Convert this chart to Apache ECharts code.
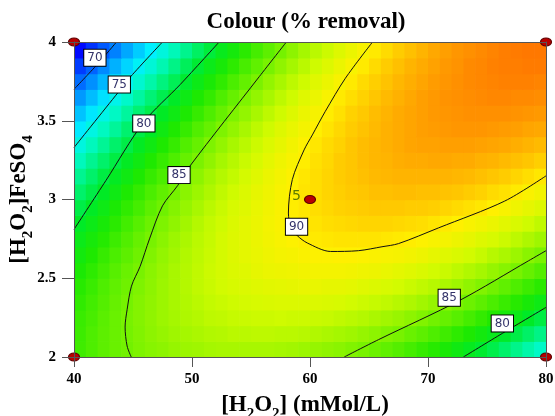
<!DOCTYPE html>
<html>
<head>
<meta charset="utf-8">
<script src="https://cdn.jsdelivr.net/npm/echarts/dist/echarts.min.js"></script>
<style>
html, body { margin: 0; padding: 0; background: #fff; }
#chart { width: 555px; height: 416px; }
</style>
</head>
<body>
<div id="chart"></div>
<script>
// Cell centres of the response grid: H2O2 dose (mMol/L) and H2O2/FeSO4 ratio
const xCenters = [40.5, 41.5, 42.5, 43.5, 44.5, 45.5, 46.5, 47.5, 48.5, 49.5,
                  50.5, 51.5, 52.5, 53.5, 54.5, 55.5, 56.5, 57.5, 58.5, 59.5,
                  60.5, 61.5, 62.5, 63.5, 64.5, 65.5, 66.5, 67.5, 68.5, 69.5,
                  70.5, 71.5, 72.5, 73.5, 74.5, 75.5, 76.5, 77.5, 78.5, 79.5];
const yCenters = [2.05, 2.15, 2.25, 2.35, 2.45, 2.55, 2.65, 2.75, 2.85, 2.95,
                  3.05, 3.15, 3.25, 3.35, 3.45, 3.55, 3.65, 3.75, 3.85, 3.95];

// Colour removal (%) per cell, one row per ratio value (bottom row first)
const removal = [
  [83.1, 83.6, 84.1, 84.5, 84.8, 85.2, 85.5, 85.7, 86.0, 86.2, 86.3, 86.5, 86.6, 86.6, 86.6, 86.6, 86.6, 86.5, 86.4, 86.2, 86.0, 85.8, 85.6, 85.3, 85.0, 84.6, 84.2, 83.8, 83.3, 82.8, 82.3, 81.7, 81.1, 80.4, 79.8, 79.1, 78.3, 77.5, 76.7, 75.9],
  [83.0, 83.6, 84.1, 84.5, 84.9, 85.3, 85.7, 86.0, 86.3, 86.5, 86.7, 86.9, 87.0, 87.2, 87.2, 87.3, 87.3, 87.2, 87.2, 87.1, 86.9, 86.7, 86.5, 86.3, 86.0, 85.7, 85.3, 85.0, 84.5, 84.1, 83.6, 83.1, 82.5, 81.9, 81.3, 80.6, 79.9, 79.2, 78.4, 77.6],
  [82.9, 83.4, 84.0, 84.5, 85.0, 85.4, 85.8, 86.2, 86.5, 86.8, 87.0, 87.3, 87.4, 87.6, 87.7, 87.8, 87.8, 87.9, 87.8, 87.8, 87.7, 87.6, 87.4, 87.2, 87.0, 86.7, 86.4, 86.1, 85.7, 85.3, 84.8, 84.4, 83.9, 83.3, 82.7, 82.1, 81.5, 80.8, 80.0, 79.3],
  [82.6, 83.2, 83.8, 84.4, 84.9, 85.4, 85.8, 86.2, 86.6, 86.9, 87.2, 87.5, 87.7, 87.9, 88.1, 88.2, 88.3, 88.4, 88.4, 88.4, 88.4, 88.3, 88.2, 88.0, 87.8, 87.6, 87.4, 87.1, 86.8, 86.4, 86.0, 85.6, 85.1, 84.6, 84.1, 83.5, 82.9, 82.3, 81.6, 80.9],
  [82.3, 82.9, 83.6, 84.2, 84.7, 85.2, 85.7, 86.2, 86.6, 87.0, 87.4, 87.7, 88.0, 88.2, 88.4, 88.6, 88.7, 88.8, 88.9, 89.0, 89.0, 88.9, 88.9, 88.8, 88.6, 88.4, 88.2, 88.0, 87.7, 87.4, 87.1, 86.7, 86.3, 85.8, 85.3, 84.8, 84.2, 83.6, 83.0, 82.4],
  [81.8, 82.5, 83.2, 83.9, 84.5, 85.0, 85.6, 86.1, 86.6, 87.0, 87.4, 87.8, 88.1, 88.4, 88.6, 88.9, 89.1, 89.2, 89.3, 89.4, 89.5, 89.5, 89.5, 89.4, 89.3, 89.2, 89.0, 88.8, 88.6, 88.3, 88.0, 87.7, 87.3, 86.9, 86.5, 86.0, 85.5, 85.0, 84.4, 83.8],
  [81.3, 82.0, 82.8, 83.5, 84.1, 84.7, 85.3, 85.9, 86.4, 86.9, 87.3, 87.7, 88.1, 88.5, 88.8, 89.0, 89.3, 89.5, 89.6, 89.8, 89.9, 89.9, 90.0, 90.0, 89.9, 89.8, 89.7, 89.6, 89.4, 89.2, 88.9, 88.6, 88.3, 88.0, 87.6, 87.1, 86.7, 86.2, 85.6, 85.1],
  [80.7, 81.5, 82.2, 83.0, 83.7, 84.4, 85.0, 85.6, 86.2, 86.7, 87.2, 87.6, 88.1, 88.5, 88.8, 89.1, 89.4, 89.7, 89.9, 90.1, 90.2, 90.3, 90.4, 90.4, 90.4, 90.4, 90.3, 90.2, 90.1, 89.9, 89.7, 89.5, 89.2, 88.9, 88.5, 88.2, 87.8, 87.3, 86.8, 86.3],
  [80.0, 80.8, 81.6, 82.4, 83.2, 83.9, 84.6, 85.2, 85.8, 86.4, 87.0, 87.5, 87.9, 88.4, 88.8, 89.1, 89.5, 89.8, 90.0, 90.3, 90.4, 90.6, 90.7, 90.8, 90.9, 90.9, 90.9, 90.8, 90.7, 90.6, 90.4, 90.2, 90.0, 89.7, 89.4, 89.1, 88.7, 88.3, 87.9, 87.4],
  [79.2, 80.1, 80.9, 81.8, 82.6, 83.3, 84.1, 84.7, 85.4, 86.0, 86.6, 87.2, 87.7, 88.2, 88.6, 89.0, 89.4, 89.8, 90.1, 90.3, 90.6, 90.8, 91.0, 91.1, 91.2, 91.3, 91.3, 91.3, 91.2, 91.2, 91.1, 90.9, 90.7, 90.5, 90.3, 90.0, 89.7, 89.3, 88.9, 88.5],
  [78.3, 79.2, 80.1, 81.0, 81.9, 82.7, 83.5, 84.2, 84.9, 85.6, 86.2, 86.8, 87.4, 87.9, 88.4, 88.9, 89.3, 89.7, 90.0, 90.4, 90.6, 90.9, 91.1, 91.3, 91.4, 91.6, 91.6, 91.7, 91.7, 91.6, 91.6, 91.5, 91.4, 91.2, 91.0, 90.7, 90.5, 90.2, 89.8, 89.4],
  [77.3, 78.3, 79.3, 80.2, 81.1, 81.9, 82.8, 83.5, 84.3, 85.0, 85.7, 86.4, 87.0, 87.5, 88.1, 88.6, 89.1, 89.5, 89.9, 90.3, 90.6, 90.9, 91.2, 91.4, 91.6, 91.8, 91.9, 92.0, 92.0, 92.0, 92.0, 92.0, 91.9, 91.8, 91.6, 91.4, 91.2, 90.9, 90.6, 90.3],
  [76.2, 77.3, 78.3, 79.3, 80.2, 81.1, 82.0, 82.8, 83.6, 84.4, 85.1, 85.8, 86.5, 87.1, 87.7, 88.2, 88.8, 89.3, 89.7, 90.1, 90.5, 90.8, 91.2, 91.4, 91.7, 91.9, 92.0, 92.2, 92.3, 92.3, 92.4, 92.4, 92.3, 92.3, 92.1, 92.0, 91.8, 91.6, 91.4, 91.1],
  [75.1, 76.2, 77.2, 78.3, 79.2, 80.2, 81.1, 82.0, 82.8, 83.7, 84.4, 85.2, 85.9, 86.6, 87.2, 87.8, 88.4, 88.9, 89.4, 89.9, 90.3, 90.7, 91.0, 91.4, 91.7, 91.9, 92.1, 92.3, 92.5, 92.6, 92.6, 92.7, 92.7, 92.7, 92.6, 92.5, 92.4, 92.2, 92.0, 91.8],
  [73.8, 75.0, 76.1, 77.1, 78.2, 79.2, 80.1, 81.1, 82.0, 82.8, 83.7, 84.4, 85.2, 85.9, 86.6, 87.3, 87.9, 88.5, 89.0, 89.5, 90.0, 90.4, 90.8, 91.2, 91.5, 91.8, 92.1, 92.3, 92.5, 92.7, 92.8, 92.9, 93.0, 93.0, 93.0, 92.9, 92.8, 92.7, 92.5, 92.4],
  [72.5, 73.7, 74.8, 76.0, 77.0, 78.1, 79.1, 80.1, 81.0, 81.9, 82.8, 83.6, 84.4, 85.2, 85.9, 86.6, 87.3, 87.9, 88.5, 89.1, 89.6, 90.1, 90.5, 91.0, 91.3, 91.7, 92.0, 92.3, 92.5, 92.7, 92.9, 93.0, 93.1, 93.2, 93.2, 93.2, 93.2, 93.1, 93.0, 92.9],
  [71.1, 72.3, 73.5, 74.7, 75.8, 76.9, 78.0, 79.0, 80.0, 80.9, 81.9, 82.7, 83.6, 84.4, 85.2, 85.9, 86.6, 87.3, 87.9, 88.6, 89.1, 89.7, 90.2, 90.6, 91.0, 91.4, 91.8, 92.1, 92.4, 92.7, 92.9, 93.1, 93.2, 93.3, 93.4, 93.5, 93.5, 93.4, 93.4, 93.3],
  [69.6, 70.8, 72.1, 73.3, 74.5, 75.6, 76.7, 77.8, 78.8, 79.8, 80.8, 81.7, 82.6, 83.5, 84.3, 85.1, 85.9, 86.6, 87.3, 87.9, 88.6, 89.1, 89.7, 90.2, 90.7, 91.1, 91.5, 91.9, 92.2, 92.5, 92.8, 93.0, 93.2, 93.4, 93.5, 93.6, 93.7, 93.7, 93.7, 93.6],
  [68.0, 69.3, 70.6, 71.9, 73.1, 74.3, 75.4, 76.5, 77.6, 78.7, 79.7, 80.7, 81.6, 82.5, 83.4, 84.2, 85.0, 85.8, 86.5, 87.2, 87.9, 88.5, 89.1, 89.7, 90.2, 90.7, 91.2, 91.6, 92.0, 92.3, 92.6, 92.9, 93.1, 93.4, 93.5, 93.7, 93.8, 93.8, 93.9, 93.9],
  [66.3, 67.7, 69.0, 70.3, 71.6, 72.8, 74.0, 75.2, 76.3, 77.4, 78.5, 79.5, 80.5, 81.4, 82.4, 83.3, 84.1, 84.9, 85.7, 86.5, 87.2, 87.8, 88.5, 89.1, 89.7, 90.2, 90.7, 91.2, 91.6, 92.0, 92.4, 92.7, 93.0, 93.2, 93.4, 93.6, 93.8, 93.9, 94.0, 94.0]
];

// Iso-lines of colour removal, as [H2O2, ratio] points
const contour70 = [[43.6, 4.0], [42.0, 3.86], [40.0, 3.70]];
const contour75 = [[47.5, 4.0], [44.8, 3.78], [43.74, 3.68], [40.0, 3.33]];
const contour80a = [[52.3, 4.0], [49.0, 3.73], [45.9, 3.49], [42.7, 3.12], [40.0, 2.81]];
const contour85a = [[58.0, 4.0], [55.7, 3.78], [49.8, 3.21], [48.8, 3.09], [47.5, 2.96], [46.4, 2.75],
                    [45.6, 2.575], [44.87, 2.45], [44.5, 2.30], [44.33, 2.19], [44.5, 2.07], [44.85, 2.0]];
const contour90 = [[65.3, 4.0], [63.0, 3.77], [61.3, 3.56], [60.2, 3.41], [59.5, 3.315], [58.5, 3.126],
                   [58.17, 2.914], [58.4, 2.82], [58.93, 2.77], [59.77, 2.724], [61.75, 2.67], [64.1, 2.675],
                   [66.1, 2.70], [67.5, 2.72], [70.9, 2.82], [76.5, 2.99], [80.0, 3.15]];
const contour85b = [[62.9, 2.0], [65.8, 2.11], [72.7, 2.36], [78.5, 2.61], [80.0, 2.675]];
const contour80b = [[73.0, 2.0], [76.3, 2.15], [80.0, 2.315]];
const contourLines = [contour70, contour75, contour80a, contour85a, contour90, contour85b, contour80b];

// Contour level tags: [H2O2, ratio, level]
const levelTags = [
  [41.77, 3.90, '70'], [43.84, 3.73, '75'], [45.92, 3.483, '80'], [48.9, 3.155, '85'],
  [58.86, 2.827, '90'], [71.8, 2.376, '85'], [76.3, 2.213, '80']
];

// Design points (factorial corners and the replicated centre point)
const designPoints = [[40, 2], [80, 2], [40, 4], [80, 4]];
const centerPoint = [60, 3];
const centerReplicates = '5';

// Colour scale stops, evenly spaced from 66 to 98 % removal
const scaleColors = ['#0000ff', '#003cff', '#0078ff', '#00b4ff', '#00f0ff', '#00f9c4', '#00f276',
  '#00ea27', '#1ee900', '#5aef00', '#96f500', '#d2fb00', '#fff000', '#ffb400', '#ff7800', '#ff3c00', '#ff0000'];

const cells = [];
removal.forEach((row, j) => row.forEach((v, i) => cells.push([xCenters[i], yCenters[j], v])));
const cellW = xCenters[1] - xCenters[0];
const cellH = yCenters[1] - yCenters[0];

const serif = 'Liberation Serif';
const nameRich = {
  n: { fontFamily: serif, fontWeight: 'bold', fontSize: 23, color: '#000', verticalAlign: 'top', padding: [0, 0, 5, 0] },
  s: { fontFamily: serif, fontWeight: 'bold', fontSize: 15, color: '#000', verticalAlign: 'bottom' }
};
const tickFont = { fontFamily: serif, fontWeight: 'bold', fontSize: 15, color: '#000' };

const chart = echarts.init(document.getElementById('chart'), null, { renderer: 'canvas' });
chart.setOption({
  animation: false,
  backgroundColor: '#fff',
  title: {
    text: 'Colour (% removal)',
    left: 301, top: 6, textAlign: 'center',
    textStyle: { fontFamily: serif, fontWeight: 'bold', fontSize: 23, color: '#000' }
  },
  grid: { left: 74, right: 9, top: 42, bottom: 59, show: false, outerBoundsMode: 'none', containLabel: false },
  visualMap: {
    type: 'continuous', show: false, min: 66, max: 98, dimension: 2, seriesIndex: 0,
    inRange: { color: scaleColors }
  },
  xAxis: [{
    type: 'value', min: 40, max: 80, interval: 10, z: 10,
    name: '{n|[H}{s|2}{n|O}{s|2}{n|] (mMol/L)}',
    nameLocation: 'middle', nameGap: 37,
    nameTextStyle: { rich: nameRich, padding: [0, 10, 0, 0] },
    axisLine: { show: true, lineStyle: { color: '#555', width: 1 } },
    axisTick: { show: true, length: 10, lineStyle: { color: '#555' } },
    axisLabel: Object.assign({ margin: 15 }, tickFont),
    splitLine: { show: false }
  }, {
    type: 'value', position: 'top', min: 40, max: 80, z: 10,
    axisLine: { show: true, onZero: false, lineStyle: { color: '#555', width: 1 } },
    axisTick: { show: false }, axisLabel: { show: false }, splitLine: { show: false }
  }],
  yAxis: [{
    type: 'value', min: 2, max: 4, interval: 0.5, z: 10,
    name: '{n|[H}{s|2}{n|O}{s|2}{n|]FeSO}{s|4}',
    nameLocation: 'middle', nameGap: 38, nameRotate: 90, nameMoveOverlap: false,
    nameTextStyle: { rich: nameRich },
    axisLine: { show: true, lineStyle: { color: '#555', width: 1 } },
    axisTick: { show: true, length: 12, lineStyle: { color: '#555' } },
    axisLabel: Object.assign({ margin: 18 }, tickFont),
    splitLine: { show: false }
  }, {
    type: 'value', position: 'right', min: 2, max: 4, z: 10,
    axisLine: { show: true, onZero: false, lineStyle: { color: '#555', width: 1 } },
    axisTick: { show: false }, axisLabel: { show: false }, splitLine: { show: false }
  }],
  series: [
    {
      type: 'custom',
      data: cells,
      encode: { x: 0, y: 1 },
      clip: true,
      z: 1,
      renderItem: function (params, api) {
        const x = api.value(0), y = api.value(1);
        const p0 = api.coord([x - cellW / 2, y + cellH / 2]);
        const p1 = api.coord([x + cellW / 2, y - cellH / 2]);
        return {
          type: 'rect',
          shape: { x: p0[0], y: p0[1], width: p1[0] - p0[0] + 0.7, height: p1[1] - p0[1] + 0.7 },
          style: { fill: api.visual('color') }
        };
      }
    }
  ].concat(contourLines.map(pts => ({
    type: 'line',
    data: pts,
    smooth: 0.3,
    showSymbol: false,
    symbol: 'none',
    z: 3,
    silent: true,
    lineStyle: { color: '#111', width: 1 }
  }))).concat([
    {
      type: 'scatter',
      data: levelTags,
      symbol: 'rect',
      symbolSize: 1,
      z: 5,
      silent: true,
      itemStyle: { color: '#ffffff', opacity: 1 },
      label: {
        show: true, position: 'inside', opacity: 1,
        formatter: p => p.value[2],
        fontFamily: 'DejaVu Sans', fontSize: 12, lineHeight: 14, color: '#34346a',
        backgroundColor: '#ffffff', borderColor: '#000000', borderWidth: 1, padding: [1, 3, 1, 3]
      }
    },
    {
      type: 'scatter',
      data: designPoints,
      symbol: 'circle',
      symbolSize: [11, 8],
      clip: false,
      z: 6,
      silent: true,
      itemStyle: { color: '#b80000', borderColor: '#600000', borderWidth: 1, opacity: 1 }
    },
    {
      type: 'scatter',
      data: [centerPoint],
      symbol: 'circle',
      symbolSize: [11, 8],
      z: 6,
      silent: true,
      itemStyle: { color: '#b80000', borderColor: '#600000', borderWidth: 1, opacity: 1 },
      label: {
        show: true, position: 'left', distance: 3, offset: [0, -3],
        formatter: centerReplicates,
        fontFamily: 'DejaVu Sans', fontSize: 14, color: '#5c7a00'
      }
    }
  ])
});
</script>
</body>
</html>
